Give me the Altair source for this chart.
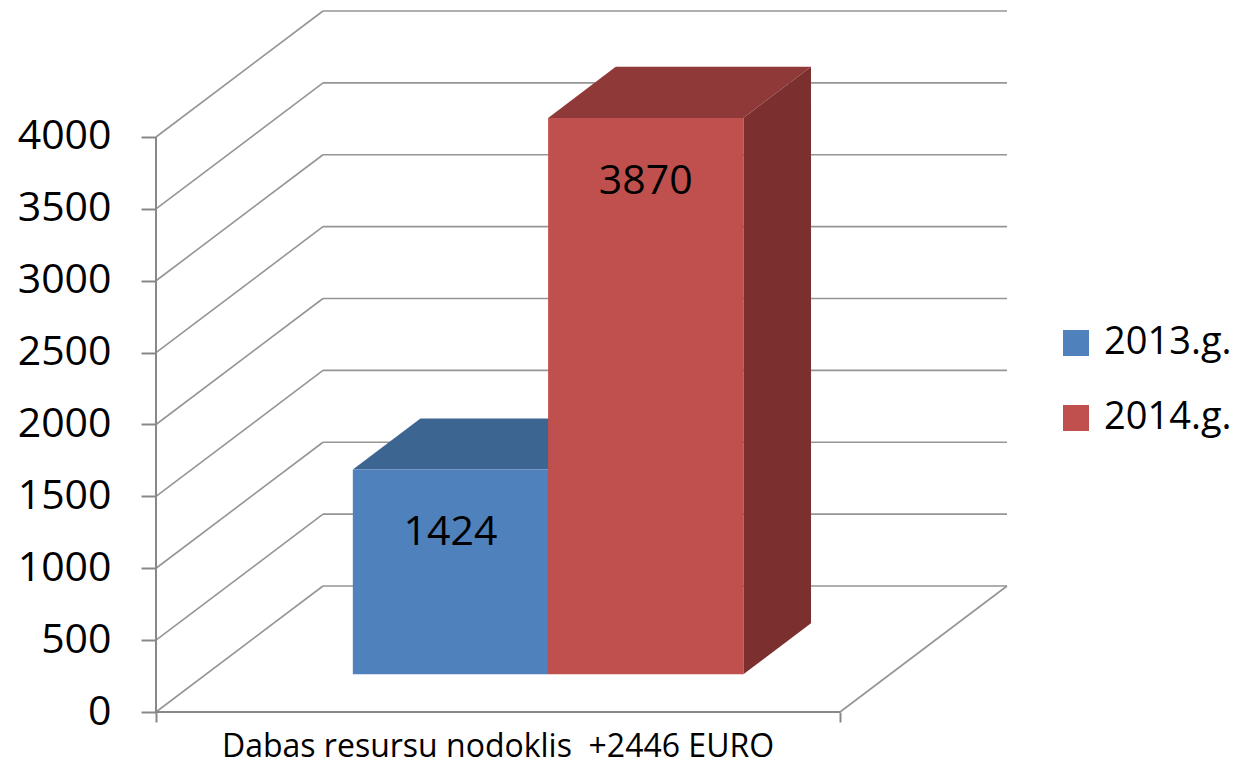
import altair as alt
import pandas as pd

# ---- data ----
series = ["2013.g.", "2014.g."]
values = [1424, 3870]
category = "Dabas resursu nodoklis \u00a0+2446 EURO"
y_ticks = [0, 500, 1000, 1500, 2000, 2500, 3000, 3500, 4000]

# ---- styles ----
front_colors = ["#4F81BD", "#C0504D"]
top_colors = ["#3D6591", "#8F3A39"]
side_colors = ["#31507A", "#7B302F"]
grid_color = "#959595"
axis_color = "#888888"
FONT = "Open Sans"

# ---- pseudo-3D projection constants ----
DX = 167 / 684      # depth offset in category units (front floor = 1 unit)
DY = 876.5          # depth offset in value units
F0, F1 = 0.30, 0.705  # bar front/back depth fractions
BAR_W = 0.2855      # bar width in category units
Y_MAX = 4000

n = len(series)
dxd = (F1 - F0) * DX
dyd = (F1 - F0) * DY

front_rows, top_rows, side_rows, label_rows = [], [], [], []
for i, (s, v) in enumerate(zip(series, values)):
    start = 0.5 - n * BAR_W / 2 + i * BAR_W
    x0 = start + F0 * DX
    x1 = x0 + BAR_W
    yb = F0 * DY
    yt = yb + v
    front_rows.append({"series": s, "x": x0, "x2": x1, "y": yb, "y2": yt})
    top_rows += [
        {"series": s, "k": 0, "y": yt, "x": x0, "x2": x1},
        {"series": s, "k": 1, "y": yt + dyd, "x": x0 + dxd, "x2": x1 + dxd},
    ]
    side_rows += [
        {"series": s, "k": 0, "x": x1, "y": yb, "y2": yt},
        {"series": s, "k": 1, "x": x1 + dxd, "y": yb + dyd, "y2": yt + dyd},
    ]
    label_rows.append({"series": s, "x": (x0 + x1) / 2, "y": yt, "text": str(v)})

grid_rows = []
for t in y_ticks:
    grid_rows.append({"x": 0, "x2": DX, "y": t, "y2": t + DY})          # left wall
    grid_rows.append({"x": DX, "x2": 1 + DX, "y": t + DY, "y2": t + DY})  # back wall
grid_rows.append({"x": 1, "x2": 1 + DX, "y": 0, "y2": DY})               # floor right edge

axis_rows = [
    {"x": 0, "x2": 0, "y": 0, "y2": Y_MAX},   # value axis line
    {"x": 0, "x2": 1, "y": 0, "y2": 0},       # category axis line
]

xs = alt.Scale(domain=[0, 1 + DX], nice=False, zero=False)
ys = alt.Scale(domain=[0, Y_MAX + DY], nice=False, zero=False)

x_axis = alt.Axis(values=[0, 1], labels=False, domain=False, grid=False,
                  tickSize=10, tickColor=axis_color, tickWidth=2, title=None)
y_axis = alt.Axis(values=y_ticks, format="d", domain=False, grid=False, tickSize=15,
                  tickColor=axis_color, tickWidth=2, labelFontSize=41,
                  labelFont=FONT, labelColor="black", labelPadding=30, title=None)


def X(f):
    return alt.X(f, type="quantitative", scale=xs, axis=x_axis)


def Y(f):
    return alt.Y(f, type="quantitative", scale=ys, axis=y_axis)


grid = alt.Chart(pd.DataFrame(grid_rows)).mark_rule(
    color=grid_color, strokeWidth=1.6
).encode(x=X("x"), x2="x2", y=Y("y"), y2="y2")

axes = alt.Chart(pd.DataFrame(axis_rows)).mark_rule(
    color=axis_color, strokeWidth=2
).encode(x=X("x"), x2="x2", y=Y("y"), y2="y2")

tops = alt.Chart(pd.DataFrame(top_rows)).mark_area(orient="horizontal").encode(
    y=Y("y"), x=X("x"), x2="x2",
    color=alt.Color("series:N", scale=alt.Scale(domain=series, range=top_colors), legend=None),
    detail="series:N",
)

sides = alt.Chart(pd.DataFrame(side_rows)).mark_area(orient="vertical").encode(
    x=X("x"), y=Y("y"), y2="y2",
    color=alt.Color("series:N", scale=alt.Scale(domain=series, range=side_colors), legend=None),
    detail="series:N",
)

fronts = alt.Chart(pd.DataFrame(front_rows)).mark_rect().encode(
    x=X("x"), x2="x2", y=Y("y"), y2="y2",
    color=alt.Color(
        "series:N",
        scale=alt.Scale(domain=series, range=front_colors),
        legend=alt.Legend(
            title=None, orient="none", legendX=901, legendY=313,
            symbolType="square", symbolSize=676, symbolStrokeWidth=0,
            labelFontSize=38, labelFont=FONT, labelColor="black",
            labelOffset=9, rowPadding=37,
        ),
    ),
)

labels = alt.Chart(pd.DataFrame(label_rows)).mark_text(
    font=FONT, fontSize=41, color="black", baseline="middle", dy=64
).encode(x=X("x"), y=Y("y"), text="text:N")

cat_label = alt.Chart(pd.DataFrame({"x": [0.5], "y": [0], "text": [category]})).mark_text(
    font=FONT, fontSize=32, color="black", baseline="bottom", dy=52
).encode(x=X("x"), y=Y("y"), text="text:N")

chart = alt.layer(grid, axes, tops, sides, fronts, labels, cat_label).resolve_scale(
    color="independent"
).properties(
    width=851, height=701,
    padding={"left": 148, "top": 3, "right": 235, "bottom": 53},
    autosize=alt.AutoSizeParams(type="none"),
    background="white",
).configure_view(stroke=None)

chart.save("out.html", embed_options={"renderer": "svg", "actions": False})
